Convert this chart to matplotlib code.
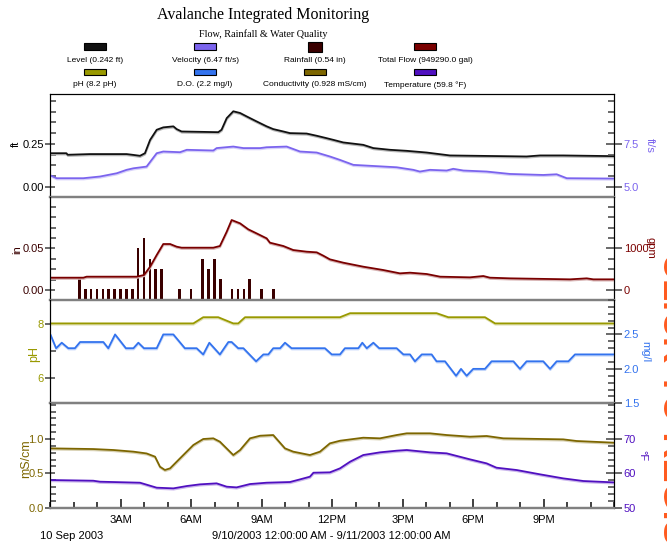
import matplotlib
matplotlib.use('Agg')
import matplotlib.pyplot as plt
import matplotlib.patheffects as pe
import matplotlib.colors as mcolors
from matplotlib.patches import Rectangle
from matplotlib.ticker import FixedLocator, MultipleLocator, FormatStrFormatter
import numpy as np

plt.rcParams['font.family'] = ['Liberation Sans', 'DejaVu Sans']

# --- data, hours since midnight 10 Sep 2003 ---
level_h = [0.0, 0.7, 0.75, 1.7, 3.26, 3.5, 3.83, 4.04, 4.26, 4.54, 4.82, 5.25, 5.39, 5.6,
           6.38, 7.16, 7.3, 7.52, 7.8, 8.09, 8.37, 8.79, 9.22, 9.5, 9.93, 10.21, 10.92,
           11.35, 11.77, 12.06, 12.48, 13.33, 13.76, 14.47, 15.18, 16.03, 17.02, 20.28,
           20.85, 21.84, 23.97]
level_ft = [0.195, 0.195, 0.186, 0.19, 0.19, 0.186, 0.18, 0.195, 0.273, 0.332, 0.346, 0.352,
            0.336, 0.322, 0.32, 0.318, 0.332, 0.40, 0.44, 0.43, 0.41, 0.381, 0.352, 0.336,
            0.322, 0.3125, 0.31, 0.297, 0.283, 0.273, 0.258, 0.244, 0.225, 0.215, 0.209,
            0.199, 0.182, 0.176, 0.182, 0.182, 0.178]

vel_h = [0.07, 0.28, 1.42, 2.13, 2.84, 3.26, 3.55, 4.11, 4.54, 4.82, 5.53, 5.82, 6.95, 7.09,
         7.8, 8.23, 8.94, 9.22, 10.07, 10.64, 11.35, 11.91, 12.34, 12.91, 14.75, 15.46,
         15.74, 16.17, 16.88, 17.16, 17.59, 18.58, 19.57, 20.99, 21.56, 21.99, 23.97]
vel_fts = [5.625, 5.49, 5.49, 5.59, 5.78, 5.98, 6.07, 6.17, 6.95, 7.05, 7.01, 7.15, 7.11,
           7.25, 7.34, 7.25, 7.25, 7.30, 7.34, 7.05, 6.99, 6.76, 6.56, 6.27, 6.13, 5.98,
           5.88, 5.98, 5.94, 6.04, 5.94, 5.88, 5.74, 5.68, 5.72, 5.49, 5.47]

rain_h = [1.25, 1.5, 1.75, 2.0, 2.25, 2.5, 2.75, 3.0, 3.25, 3.5, 3.75, 4.0, 4.25, 4.5,
          4.75, 5.5, 6.0, 6.5, 6.75, 7.0, 7.25, 7.75, 8.0, 8.25, 8.5, 9.0, 9.5]
rain_in = [0.014, 0.001, 0.001, 0.001, 0.001, 0.001, 0.001, 0.001, 0.001, 0.001, 0.05,
           0.063, 0.037, 0.025, 0.025, 0.001, 0.001, 0.037, 0.025, 0.037, 0.013, 0.001,
           0.001, 0.001, 0.013, 0.001, 0.001]

flow_h = [0.07, 1.42, 1.56, 3.69, 4.0, 4.26, 4.54, 4.82, 5.11, 5.39, 5.6, 6.95, 7.23, 7.52,
          7.73, 8.09, 8.44, 8.79, 9.22, 9.36, 9.93, 10.35, 10.92, 11.35, 11.63, 11.91,
          12.48, 13.33, 14.18, 14.89, 15.32, 16.03, 16.6, 17.87, 18.44, 18.72, 19.57,
          22.13, 22.84, 23.12, 23.97]
flow_gpm = [296, 296, 320, 320, 360, 560, 840, 1104, 1104, 1040, 1016, 1016, 1056, 1400,
            1680, 1600, 1456, 1360, 1240, 1136, 1056, 960, 920, 904, 824, 736, 656, 560,
            480, 400, 416, 384, 320, 304, 336, 296, 280, 256, 280, 256, 256]

ph_h = [0.03, 6.1, 6.52, 7.16, 7.8, 8.01, 8.3, 12.34, 12.77, 16.45, 16.95, 18.51, 18.94, 23.97]
ph_val = [8.02, 8.02, 8.25, 8.25, 8.02, 8.02, 8.25, 8.25, 8.40, 8.40, 8.25, 8.25, 8.02, 8.02]

do_h = [0.03, 0.26, 0.5, 0.78, 1.06, 1.28, 2.27, 2.48, 2.77, 3.23, 3.55, 3.76, 4.0, 4.54,
        4.82, 5.25, 5.74, 6.24, 6.52, 6.78, 7.23, 7.59, 7.73, 8.01, 8.23, 8.77, 9.08, 9.29,
        9.5, 9.79, 10.0, 10.28, 11.7, 11.99, 12.34, 12.55, 13.12, 13.29, 13.48, 13.76,
        14.01, 14.75, 15.04, 15.32, 15.53, 15.82, 16.24, 16.45, 16.81, 17.28, 17.49, 17.73,
        18.01, 18.51, 18.79, 19.72, 20.0, 20.28, 20.99, 21.28, 21.56, 22.06, 22.34, 23.97]
do_mgl = [2.49, 2.30, 2.38, 2.30, 2.30, 2.39, 2.39, 2.30, 2.50, 2.30, 2.30, 2.38, 2.30, 2.30,
          2.50, 2.50, 2.30, 2.30, 2.21, 2.38, 2.21, 2.39, 2.39, 2.30, 2.30, 2.11, 2.21, 2.21,
          2.30, 2.30, 2.38, 2.30, 2.30, 2.21, 2.21, 2.30, 2.30, 2.38, 2.30, 2.38, 2.30, 2.30,
          2.21, 2.21, 2.11, 2.21, 2.21, 2.11, 2.11, 1.90, 2.00, 1.90, 2.00, 2.00, 2.11, 2.11,
          2.00, 2.11, 2.11, 2.00, 2.11, 2.11, 2.21, 2.21]

cond_h = [0.03, 1.84, 2.7, 3.55, 4.11, 4.47, 4.68, 4.89, 5.11, 5.53, 6.1, 6.52, 6.95, 7.23,
          7.8, 8.09, 8.51, 8.94, 9.5, 10.0, 10.35, 11.06, 11.49, 11.91, 12.34, 13.33, 14.04,
          14.75, 15.18, 16.17, 16.88, 17.87, 18.58, 19.29, 21.84, 22.41, 23.97]
cond_ms = [0.864, 0.854, 0.84, 0.816, 0.79, 0.743, 0.597, 0.549, 0.573, 0.718, 0.913, 1.0,
           1.01, 0.961, 0.767, 0.84, 1.01, 1.048, 1.058, 0.864, 0.816, 0.767, 0.816, 0.937,
           0.975, 1.019, 1.01, 1.058, 1.083, 1.083, 1.058, 1.034, 1.044, 1.01, 0.995, 0.971,
           0.947]

temp_h = [0.03, 1.84, 2.13, 3.83, 4.54, 5.25, 5.82, 6.38, 7.09, 7.52, 7.94, 8.51, 9.22, 10.21,
          10.64, 11.06, 11.21, 11.91, 12.34, 12.77, 13.33, 14.04, 14.75, 15.18, 16.17, 16.88,
          17.87, 18.58, 19.0, 19.86, 20.85, 21.84, 22.7, 23.97]
temp_f = [58.06, 57.86, 57.57, 57.28, 55.83, 55.63, 56.31, 56.8, 57.09, 56.12, 55.92, 56.89,
          57.28, 57.48, 58.25, 59.03, 60.19, 60.3, 61.46, 63.4, 65.34, 66.12, 66.6, 66.8,
          66.12, 65.83, 64.08, 62.91, 61.65, 60.97, 59.72, 58.54, 57.77, 57.38]

hour_ticks = [3, 6, 9, 12, 15, 18, 21]
hour_labels = ['3AM', '6AM', '9AM', '12PM', '3PM', '6PM', '9PM']

legend_names = [['Level (0.242 ft)', 'Velocity (6.47 ft/s)', 'Rainfall (0.54 in)',
                 'Total Flow (949290.0 gal)'],
                ['pH (8.2 pH)', 'D.O. (2.2 mg/l)', 'Conductivity (0.928 mS/cm)',
                 'Temperature (59.8 \u00b0F)']]

C_LEVEL = '#111111'
C_VEL = '#7b64ee'
C_RAIN = '#3a0000'
C_FLOW = '#7a0000'
C_PH = '#999900'
C_DO = '#3373ee'
C_COND = '#7d6600'
C_TEMP = '#5010c0'
legend_colors = [[C_LEVEL, C_VEL, C_RAIN, C_FLOW], [C_PH, C_DO, C_COND, C_TEMP]]

W, H = 667, 545


def fx(x):
    return x / W


def fy(y):
    return 1 - y / H


def shadowed(color):
    # light copy of the line just below it, like the original renderer
    light = tuple(0.3 * np.array(mcolors.to_rgb(color)) + 0.7)
    return [pe.SimpleLineShadow(offset=(0.2, -0.9), shadow_color=light, alpha=1.0),
            pe.Normal()]


def style_axes(ax, ax2, lc, rc, lmaj, lmin, rmaj, rmin, lfmt, rfmt, top=False):
    for a in (ax, ax2):
        a.set_facecolor('none')
        a.spines['top'].set_visible(top)
        a.spines['top'].set_color('black')
        a.spines['bottom'].set_color('#808080')
        a.spines['bottom'].set_linewidth(1.6)
        a.spines['left'].set_color('black')
        a.spines['right'].set_color('black')
        a.set_xlim(0, 24)
        a.tick_params(axis='x', which='both', bottom=False, labelbottom=False)
    ax.yaxis.set_major_locator(FixedLocator(lmaj))
    ax.yaxis.set_minor_locator(MultipleLocator(lmin))
    ax.yaxis.set_major_formatter(FormatStrFormatter(lfmt))
    ax.tick_params(axis='y', which='major', direction='inout', length=7, width=1.2,
                   color='#505050', labelcolor=lc, labelsize=8, pad=1)
    ax.tick_params(axis='y', which='minor', direction='in', length=4, width=1.2,
                   color='#505050')
    ax2.yaxis.set_major_locator(FixedLocator(rmaj))
    ax2.yaxis.set_minor_locator(MultipleLocator(rmin))
    ax2.yaxis.set_major_formatter(FormatStrFormatter(rfmt))
    ax2.tick_params(axis='y', which='major', direction='inout', length=12, width=1.2,
                    color='#505050', labelcolor=rc, labelsize=8, pad=1)
    ax2.tick_params(axis='y', which='minor', direction='in', length=4, width=1.2,
                    color='#505050')


fig = plt.figure(figsize=(6.67, 5.45), dpi=100)
fig.patch.set_facecolor('white')

left, right = 50, 614
bounds = [(94, 196.7), (196.7, 300), (300, 403.3), (403.3, 507.7)]
axes = []
for top_px, bot_px in bounds:
    a = fig.add_axes([fx(left), fy(bot_px), fx(right - left), (bot_px - top_px) / H])
    axes.append((a, a.twinx()))

# panel 1: level / velocity
ax, ax2 = axes[0]
ax.plot(level_h, level_ft, color=C_LEVEL, lw=1.3, path_effects=shadowed(C_LEVEL))
ax2.plot(vel_h, vel_fts, color=C_VEL, lw=1.3, path_effects=shadowed(C_VEL))
ax.set_ylim(-0.059, 0.541)
ax2.set_ylim(4.41, 10.41)
style_axes(ax, ax2, 'black', C_VEL, [0, 0.25], 0.0625, [5.0, 7.5], 0.625, '%.2f', '%.1f',
           top=True)

# panel 2: rainfall / total flow
ax, ax2 = axes[1]
ylo = -0.012
ax.bar(rain_h, np.array(rain_in) - ylo, bottom=ylo, width=0.11, color=C_RAIN, zorder=1)
ax2.plot(flow_h, flow_gpm, color=C_FLOW, lw=1.3, path_effects=shadowed(C_FLOW))
ax.set_ylim(ylo, 0.112)
ax2.set_ylim(-240, 2240)
style_axes(ax, ax2, C_RAIN, C_FLOW, [0, 0.05], 0.0125, [0, 1000], 250, '%.2f', '%d')

# panel 3: pH / dissolved oxygen
ax, ax2 = axes[2]
ax.plot(ph_h, ph_val, color=C_PH, lw=1.3, path_effects=shadowed(C_PH))
ax2.plot(do_h, do_mgl, color=C_DO, lw=1.3, path_effects=shadowed(C_DO))
ax.set_ylim(5.05, 8.89)
ax2.set_ylim(1.5, 3.0)
style_axes(ax, ax2, C_PH, C_DO, [6, 8], 1, [1.5, 2.0, 2.5], 0.1, '%d', '%.1f')
axes[2][0].spines['bottom'].set_color('#404040')

# panel 4: conductivity / temperature
ax, ax2 = axes[3]
ax.plot(cond_h, cond_ms, color=C_COND, lw=1.3, path_effects=shadowed(C_COND))
ax2.plot(temp_h, temp_f, color=C_TEMP, lw=1.3, path_effects=shadowed(C_TEMP))
ax.set_ylim(0, 1.52)
ax2.set_ylim(50, 80.4)
style_axes(ax, ax2, C_COND, C_TEMP, [0, 0.5, 1.0], 0.1, [50, 60, 70], 2, '%.1f', '%d')
ax.xaxis.set_major_locator(FixedLocator(hour_ticks))
ax.xaxis.set_minor_locator(MultipleLocator(1))
ax.set_xticklabels(hour_labels)
ax.tick_params(axis='x', which='major', bottom=True, labelbottom=True, direction='in',
               length=6.5, width=1.2, color='#202020', labelsize=8, pad=5)
ax.tick_params(axis='x', which='minor', bottom=True, direction='in', length=4, width=1.2,
               color='#202020')

# axis unit labels
fig.text(fx(16), fy(144), 'ft', rotation=90, ha='center', va='center', fontsize=8,
         color='black')
fig.text(fx(17), fy(250), 'in', rotation=90, ha='center', va='center', fontsize=8,
         color=C_RAIN)
fig.text(fx(34), fy(354), 'pH', rotation=90, ha='center', va='center', fontsize=9,
         color=C_PH)
fig.text(fx(26), fy(459), 'mS/cm', rotation=90, ha='center', va='center', fontsize=9,
         color=C_COND)
fig.text(fx(650), fy(145), 'ft/s', rotation=270, ha='center', va='center', fontsize=8,
         color=C_VEL)
fig.text(fx(651), fy(248), 'gpm', rotation=270, ha='center', va='center', fontsize=8,
         color=C_FLOW)
fig.text(fx(645), fy(352), 'mg/l', rotation=270, ha='center', va='center', fontsize=8,
         color=C_DO)
fig.text(fx(642), fy(456), '\u00b0F', rotation=270, ha='center', va='center', fontsize=8,
         color=C_TEMP)

# titles
fig.text(fx(263), fy(15), 'Avalanche Integrated Monitoring', ha='center', va='center',
         fontsize=11.5, family='Liberation Serif')
fig.text(fx(263), fy(34), 'Flow, Rainfall & Water Quality', ha='center', va='center',
         fontsize=7.3, family='Liberation Serif')

# legend
col_x = [95, 205, 315, 425]
for r, (sw_y, txt_y) in enumerate([(46.5, 60), (72, 85)]):
    for c in range(4):
        if r == 0 and c == 2:
            w, h = 14, 10
        else:
            w, h = 22, 6.5
        fig.patches.append(Rectangle((fx(col_x[c] - w / 2), fy(sw_y + h / 2)), w / W, h / H,
                                     transform=fig.transFigure, facecolor=legend_colors[r][c],
                                     edgecolor='black', lw=0.8))
        fig.text(fx(col_x[c]), fy(txt_y), legend_names[r][c], ha='center', va='center',
                 fontsize=6)

# footer
fig.text(fx(40), fy(536), '10 Sep 2003', ha='left', va='center', fontsize=8)
fig.text(fx(331), fy(536), '9/10/2003 12:00:00 AM - 9/11/2003 12:00:00 AM', ha='center',
         va='center', fontsize=8)

# cut-off watermark on the right edge
fig.text(fx(655), fy(252), 'CLICK TO REGISTER', rotation=270, ha='left', va='top',
         fontsize=26, fontweight='bold', color='#ff5a1e')

fig.savefig('out.png', dpi=100)
